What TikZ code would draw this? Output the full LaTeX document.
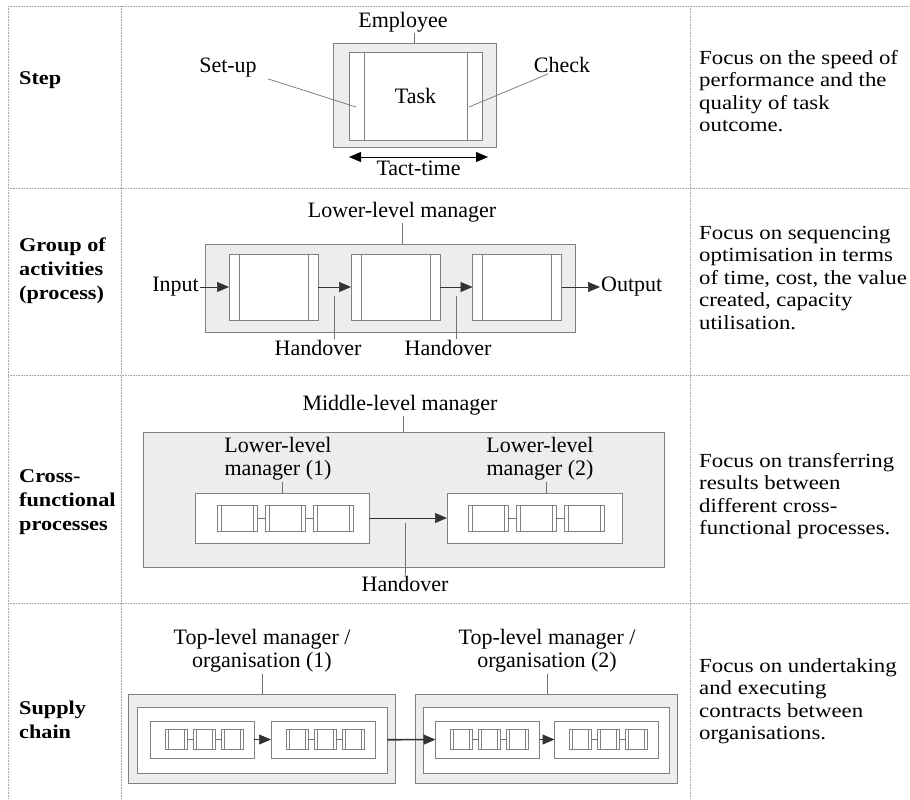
\documentclass[tikz,border=0pt]{standalone}
\usepackage{fontspec}
\setmainfont{Liberation Serif}
\newfontfamily\widefont[FakeStretch=1.14]{Liberation Serif}
\usetikzlibrary{arrows.meta}

\begin{document}
\begin{tikzpicture}[x=1pt, y=-1pt,
    >={Triangle[length=12pt,width=10pt]},
    every node/.style={font=\fontsize{22}{23}\selectfont},
    rule/.style={gray!70, densely dotted, line width=0.6pt},
    head/.style={anchor=west, align=left, inner sep=1pt, font=\widefont\bfseries\fontsize{19.5}{24}\selectfont},
    note/.style={anchor=west, align=left, inner sep=1pt, font=\widefont\fontsize{20}{22.5}\selectfont},
    txt/.style={inner sep=1pt},
    box/.style 2 args={minimum width=#1, minimum height=#2},
    unit/.style={draw=gray, fill=black!7, line width=0.8pt, inner sep=0pt, outer sep=0pt},
    frame/.style={draw=gray, fill=white, line width=0.8pt, inner sep=0pt, outer sep=0pt},
    strips/.style={path picture={
        \draw[gray, line width=0.8pt] ([xshift=#1]path picture bounding box.north west) -- ([xshift=#1]path picture bounding box.south west)
            ([xshift=-#1]path picture bounding box.north east) -- ([xshift=-#1]path picture bounding box.south east);}},
    pin/.style={draw=gray!90!black, line width=0.7pt},
    flow/.style={->, draw=black!80, line width=0.7pt}]

    \useasboundingbox (0,0) rectangle (910,800);

    % table rules
    \draw[rule] (8,6) -- (910,6);
    \draw[rule] (8,188) -- (910,188);
    \draw[rule] (8,375) -- (910,375);
    \draw[rule] (8,603) -- (910,603);
    \draw[rule] (8,6) -- (8,800);
    \draw[rule] (121,6) -- (121,800);
    \draw[rule] (690,6) -- (690,800);

    % left column
    \node[head] (hstep) at (18,80) {Step};
    \node[head] (hgroup) at (18,271) {Group of\\activities\\(process)};
    \node[head] (hcross) at (18,502) {Cross-\\functional\\processes};
    \node[head] (hsupply) at (18,720) {Supply\\chain};

    % right column
    \node[note] (nstep) at (698,91) {Focus on the speed of\\performance and the\\quality of task\\outcome.};
    \node[note] (ngroup) at (698,278) {Focus on sequencing\\optimisation in terms\\of time, cost, the value\\created, capacity\\utilisation.};
    \node[note] (ncross) at (698,496) {Focus on transferring\\results between\\different cross-\\functional processes.};
    \node[note] (nsupply) at (698,701) {Focus on undertaking\\and executing\\contracts between\\organisations.};

    % step
    \node[txt] (emp) at (403,22) {Employee};
    \node[unit, box={163}{104}] (stepu) at (414.5,95) {};
    \node[frame, box={133}{88}, strips=15pt] (task) at (415.5,96) {Task};
    \node[txt] (setup) at (228,68) {Set-up};
    \node[txt] (check) at (562,65) {Check};
    \coordinate (su) at (356,107);
    \coordinate (ck) at (469,107);
    \draw[pin] (emp.south -| stepu.north) -- (stepu.north);
    \draw[pin] ([xshift=10pt]setup.south east) -- (su);
    \draw[pin] ([xshift=-14pt]check.south) -- (ck);
    \draw[<->, black] ([yshift=-17pt]task.south west) -- ([xshift=6pt,yshift=-17pt]task.south east)
        node[txt, midway, below=3pt] (tact) {Tact-time};

    % group of activities
    \node[txt] (llm) at (402,212) {Lower-level manager};
    \node[unit, box={370}{88}] (proc) at (390,288) {};
    \node[frame, box={89}{66}, strips=10pt] (b1) at (273.5,287) {};
    \node[frame, box={89}{66}, strips=10pt] (b2) at (395.5,287) {};
    \node[frame, box={89}{66}, strips=10pt] (b3) at (517,287) {};
    \node[txt, anchor=east] (input) at (200,287) {Input};
    \node[txt, anchor=west] (output) at (600,287) {Output};
    \draw[pin] (llm) -- (llm |- proc.north);
    \draw[flow] (input) -- (b1);
    \draw[flow] (b1) -- (b2);
    \draw[flow] (b2) -- (b3);
    \draw[flow] (b3) -- (output);
    \node[txt] (hov1) at (318,348) {Handover};
    \node[txt] (hov2) at (448,348) {Handover};
    \coordinate (h1) at (334.5,296);
    \coordinate (h2) at (456.5,296);
    \draw[pin] (h1) -- (h1 |- hov1.north);
    \draw[pin] (h2) -- (h2 |- hov2.north);

    % cross-functional processes
    \node[txt] (mlm) at (400,405) {Middle-level manager};
    \node[unit, box={521}{135}] (xfp) at (403.5,499.5) {};
    \node[txt, align=center] (llm1) at (278,459) {Lower-level\\manager (1)};
    \node[txt, align=center] (llm2) at (540,459) {Lower-level\\manager (2)};
    \node[frame, box={174}{50}] (w1) at (282,518) {};
    \node[frame, box={175}{50}] (w2) at (534.5,518) {};
    \draw[pin] (mlm.south -| xfp.north) -- (xfp.north);
    \draw[pin] (llm1.south -| w1.north) -- (w1.north);
    \draw[pin] ([xshift=6pt]llm2.south) -- ([xshift=6pt]llm2.south |- w2.north);
    \foreach \i/\x in {1/237,2/285,3/333,4/488,5/536,6/584}
        \node[frame, box={40}{26}, strips=4pt] (p\i) at (\x,518) {};
    \draw[pin] (p1) -- (p2) -- (p3);
    \draw[pin] (p4) -- (p5) -- (p6);
    \draw[flow] (w1) -- (w2);
    \node[txt] (hov3) at (405,584) {Handover};
    \coordinate (h3) at (405,523);
    \draw[pin] (h3) -- (hov3);

    % supply chain
    \node[txt, align=center] (org1) at (262,651) {Top-level manager /\\organisation (1)};
    \node[txt, align=center] (org2) at (547,651) {Top-level manager /\\organisation (2)};
    \node[unit, box={267}{89}] (g1) at (261.5,738.5) {};
    \node[unit, box={262}{89}] (g2) at (546,738.5) {};
    \node[frame, box={250}{66}] (o1) at (262,740) {};
    \node[frame, box={246}{66}] (o2) at (546,740) {};
    \draw[pin] (org1) -- (org1 |- g1.north);
    \draw[pin] (org2) -- (org2 |- g2.north);
    \node[frame, box={104}{37}] (sa) at (202,739.5) {};
    \node[frame, box={104}{37}] (sb) at (323,739.5) {};
    \node[frame, box={104}{37}] (sc) at (487.5,739.5) {};
    \node[frame, box={104}{37}] (sd) at (606.5,739.5) {};
    \foreach \s in {sa,sb,sc,sd} {
        \foreach \k/\d in {1/-26,2/2,3/30}
            \node[frame, box={22}{20}, strips=3pt] (\s\k) at ([xshift=\d pt]\s) {};
        \draw[pin] (\s1) -- (\s2) -- (\s3);
    }
    \draw[flow] (sa) -- (sb);
    \draw[flow] (sc) -- (sd);
    \draw[flow, line width=1.6pt] (o1) -- (sc);
\end{tikzpicture}
\end{document}
